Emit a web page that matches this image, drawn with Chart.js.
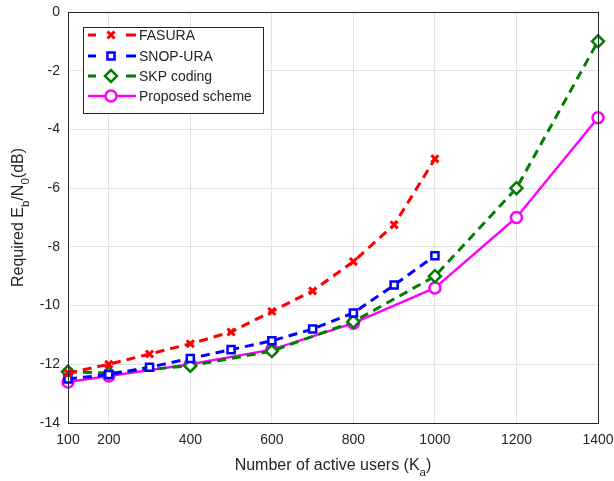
<!DOCTYPE html>
<html>
<head>
<meta charset="utf-8">
<script src="https://cdn.jsdelivr.net/npm/chart.js@4"></script>
<style>
  html, body { margin: 0; padding: 0; background: #fff; }
  #wrap { width: 614px; height: 481px; }
</style>
</head>
<body>
<div id="wrap"><canvas id="myChart" width="614" height="481"></canvas></div>
<script>
// ---- data ----
const xTicks = [100, 200, 400, 600, 800, 1000, 1200, 1400];
const yTicks = [0, -2, -4, -6, -8, -10, -12, -14];

const fasuraUsers = [100, 200, 300, 400, 500, 600, 700, 800, 900, 1000];
const fasuraEbN0  = [-12.3, -12.0, -11.65, -11.3, -10.9, -10.2, -9.5, -8.5, -7.25, -5.0];

const snopUsers = [100, 200, 300, 400, 500, 600, 700, 800, 900, 1000];
const snopEbN0  = [-12.5, -12.35, -12.1, -11.8, -11.5, -11.2, -10.8, -10.25, -9.3, -8.3];

const skpUsers = [100, 200, 400, 600, 800, 1000, 1200, 1400];
const skpEbN0  = [-12.25, -12.3, -12.05, -11.55, -10.55, -9.0, -6.0, -1.0];

const propUsers = [100, 200, 400, 600, 800, 1000, 1200, 1400];
const propEbN0  = [-12.6, -12.4, -12.0, -11.5, -10.6, -9.4, -7.0, -3.6];

const labels = ["FASURA", "SNOP-URA", "SKP coding", "Proposed scheme"];
const colors = ["#ff0000", "#0000ff", "#007f00", "#ff00ff"];

const FONT = "'Liberation Sans', Arial, Helvetica, sans-serif";
const TXT = "#262626";

function pts(xs, ys) {
    return xs.map((x, i) => ({ x: x, y: ys[i] }));
}

const datasets = [
    { label: labels[0], data: pts(fasuraUsers, fasuraEbN0), borderColor: colors[0], backgroundColor: colors[0],
      borderWidth: 3, borderDash: [9, 6], pointStyle: "crossRot", pointRadius: 5, pointBorderWidth: 3 },
    { label: labels[1], data: pts(snopUsers, snopEbN0), borderColor: colors[1], backgroundColor: "#ffffff",
      borderWidth: 3, borderDash: [9, 6], pointStyle: "rect", pointRadius: 5, pointBorderWidth: 2.5 },
    { label: labels[2], data: pts(skpUsers, skpEbN0), borderColor: colors[2], backgroundColor: "#ffffff",
      borderWidth: 3, borderDash: [9, 6], pointStyle: "rectRot", pointRadius: 6, pointBorderWidth: 2.5 },
    { label: labels[3], data: pts(propUsers, propEbN0), borderColor: colors[3], backgroundColor: "#ffffff",
      borderWidth: 2.5, pointStyle: "circle", pointRadius: 5.5, pointBorderWidth: 2.5 }
];
datasets.forEach(d => { d.tension = 0; d.fill = false; d.clip = false; d.pointHoverRadius = d.pointRadius; });

// draw text with subscripts: parts = [[text, isSub], ...]
function drawRich(ctx, parts, size) {
    let w = 0;
    parts.forEach(p => {
        ctx.font = (p[1] ? size * 0.72 : size) + "px " + FONT;
        w += ctx.measureText(p[0]).width;
    });
    let x = -w / 2;
    parts.forEach(p => {
        ctx.font = (p[1] ? size * 0.72 : size) + "px " + FONT;
        ctx.fillText(p[0], x, p[1] ? size * 0.35 : 0);
        x += ctx.measureText(p[0]).width;
    });
}

const decorPlugin = {
    id: "decor",
    afterDraw(chart) {
        const ctx = chart.ctx;
        const a = chart.chartArea;
        ctx.save();
        // box
        ctx.strokeStyle = TXT;
        ctx.lineWidth = 1;
        ctx.strokeRect(a.left + 0.5, a.top + 0.5, a.right - a.left, a.bottom - a.top);

        // axis titles
        ctx.fillStyle = TXT;
        ctx.textBaseline = "alphabetic";
        ctx.save();
        ctx.translate((a.left + a.right) / 2, 470);
        drawRich(ctx, [["Number of active users (K", false], ["a", true], [")", false]], 16);
        ctx.restore();
        ctx.save();
        ctx.translate(23, (a.top + a.bottom) / 2);
        ctx.rotate(-Math.PI / 2);
        drawRich(ctx, [["Required E", false], ["b", true], ["/N", false], ["0", true], ["(dB)", false]], 16);
        ctx.restore();

        // legend
        const lx = 83, ly = 27, lw = 180, lh = 86;
        ctx.fillStyle = "#ffffff";
        ctx.fillRect(lx, ly, lw, lh);
        ctx.strokeStyle = TXT;
        ctx.lineWidth = 1;
        ctx.strokeRect(lx + 0.5, ly + 0.5, lw, lh);
        const rows = [35, 56, 76, 96];
        chart.data.datasets.forEach((ds, i) => {
            const y = rows[i];
            ctx.strokeStyle = ds.borderColor;
            ctx.lineWidth = ds.borderWidth;
            ctx.beginPath();
            if (ds.borderDash) {
                ctx.moveTo(88, y); ctx.lineTo(96, y);
                ctx.moveTo(126, y); ctx.lineTo(136, y);
            } else {
                ctx.moveTo(88, y); ctx.lineTo(136, y);
            }
            ctx.stroke();
            ctx.fillStyle = ds.backgroundColor;
            ctx.lineWidth = ds.pointBorderWidth;
            Chart.helpers.drawPoint(ctx, {
                pointStyle: ds.pointStyle, radius: ds.pointRadius,
                borderWidth: ds.pointBorderWidth, rotation: 0
            }, 111, y);
            ctx.fillStyle = TXT;
            ctx.font = "14px " + FONT;
            ctx.textBaseline = "middle";
            ctx.fillText(ds.label, 139, y + 1);
        });
        ctx.restore();
    }
};

new Chart(document.getElementById("myChart"), {
    type: "line",
    data: { datasets: datasets },
    options: {
        responsive: false,
        animation: false,
        layout: { padding: { top: 12, right: 16, left: 0, bottom: 0 } },
        plugins: { legend: { display: false }, tooltip: { enabled: false } },
        scales: {
            x: {
                type: "linear",
                min: 100, max: 1400,
                afterBuildTicks: s => { s.ticks = xTicks.map(v => ({ value: v })); },
                afterFit: s => { s.height = 58; s.paddingRight = 0; s.paddingLeft = 0; },
                grid: { color: "#e3e3e3", drawTicks: false },
                border: { display: false },
                ticks: { color: TXT, font: { family: FONT, size: 14 }, padding: 9, maxRotation: 0,
                         callback: v => String(v) }
            },
            y: {
                type: "linear",
                min: -14, max: 0,
                afterBuildTicks: s => { s.ticks = yTicks.map(v => ({ value: v })); },
                afterFit: s => { s.width = 68; s.paddingTop = 0; s.paddingBottom = 0; },
                grid: { color: "#e3e3e3", drawTicks: false },
                border: { display: false },
                ticks: { color: TXT, font: { family: FONT, size: 14 }, padding: 8,
                         callback: v => String(v) }
            }
        }
    },
    plugins: [decorPlugin]
});
</script>
</body>
</html>
